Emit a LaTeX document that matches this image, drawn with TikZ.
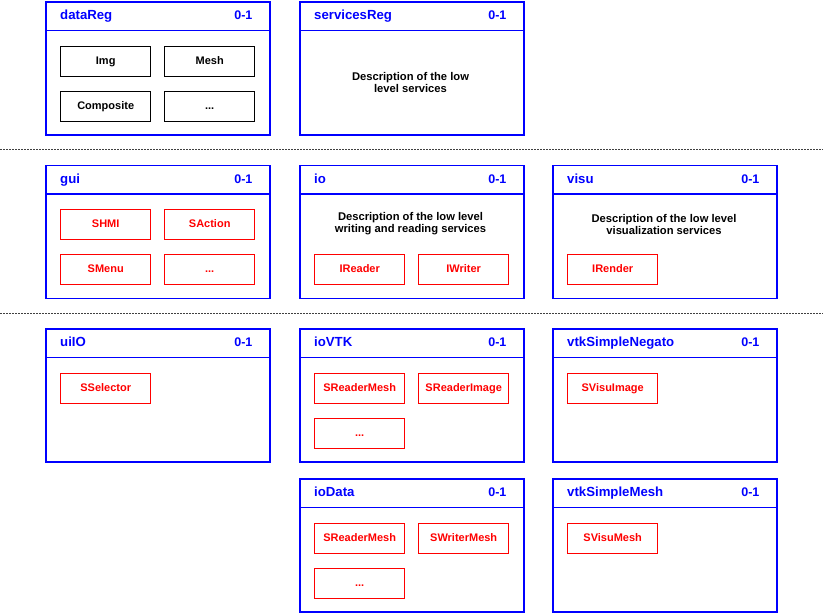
\documentclass[tikz,border=0pt]{standalone}
\usepackage{fontspec}
\setmainfont{Liberation Sans}
\begin{document}
\begin{tikzpicture}[x=1pt,y=-1pt,
  modframe/.style={draw=blue, line width=1.6pt, minimum width=224pt, minimum height=133pt, anchor=north west, inner sep=0pt},
  modline/.style={draw=blue, line width=1.6pt},
  modtitle/.style={text=blue, font=\bfseries\fontsize{13.2}{15}\selectfont, anchor=west, inner sep=0pt, text height=9.5pt, text depth=2.5pt},
  modcount/.style={modtitle, font=\bfseries\fontsize{12.5}{15}\selectfont, anchor=east},
  item/.style={draw=red, line width=1.4pt, minimum width=90pt, minimum height=30pt, anchor=north west, text=red, font=\bfseries\fontsize{11}{12}\selectfont, inner sep=0pt, text height=8pt, text depth=2pt},
  ditem/.style={item, draw=black, text=black},
  desc/.style={font=\bfseries\fontsize{11.2}{12}\selectfont, align=center, text=black, inner sep=0pt},
  sep/.style={draw=black!75, line width=1pt, dash pattern=on 1.5pt off 1.5pt}
]
\useasboundingbox (0,0) rectangle (823,613);
\newcommand\modbox[4]{%
  \node[modframe] (#1) at (#2,#3) {};
  \draw[modline] ([yshift=-29.5pt]#1.north west) -- ([yshift=-29.5pt]#1.north east);
  \node[modtitle] (#1-t) at ([xshift=15pt,yshift=-15pt]#1.north west) {#4};
  \node[modcount] (#1-c) at ([xshift=-18pt,yshift=-15pt]#1.north east) {0-1};
}
% separators
\coordinate (s1a) at (0,149.5); \coordinate (s1b) at (823,149.5);
\coordinate (s2a) at (0,313.5); \coordinate (s2b) at (823,313.5);
\draw[sep] (s1a) -- (s1b);
\draw[sep] (s2a) -- (s2b);
% row 1
\modbox{dataReg}{45}{1}{dataReg}
\node[ditem] (img) at (60,45.5) {Img};
\node[ditem] (mesh) at (164,45.5) {Mesh};
\node[ditem] (comp) at (60,90.5) {Composite};
\node[ditem] (dots1) at (164,90.5) {...};
\modbox{servicesReg}{299}{1}{servicesReg}
\node[desc] (sdesc) at (410.5,82) {Description of the low\\level services};
% row 2
\modbox{gui}{45}{164.5}{gui}
\node[item] (shmi) at (60,209) {SHMI};
\node[item] (saction) at (164,209) {SAction};
\node[item] (smenu) at (60,254) {SMenu};
\node[item] (dots2) at (164,254) {...};
\modbox{io}{299}{164.5}{io}
\node[desc] (iodesc) at (410.5,224) {Description of the low level\\writing and reading services};
\node[item] (ireader) at (314,254) {IReader};
\node[item] (iwriter) at (418,254) {IWriter};
\modbox{visu}{552}{164.5}{visu}
\node[desc] (vdesc) at (664,224) {Description of the low level\\visualization services};
\node[item] (irender) at (567,254) {IRender};
% row 3
\modbox{uiIO}{45}{328}{uiIO}
\node[item] (ssel) at (60,373) {SSelector};
\modbox{ioVTK}{299}{328}{ioVTK}
\node[item] (srm1) at (314,373) {SReaderMesh};
\node[item] (sri) at (418,373) {SReaderImage};
\node[item] (dots3) at (314,418) {...};
\modbox{vtkNeg}{552}{328}{vtkSimpleNegato}
\node[item] (svi) at (567,373) {SVisuImage};
% row 4
\modbox{ioData}{299}{478}{ioData}
\node[item] (srm2) at (314,522.5) {SReaderMesh};
\node[item] (swm) at (418,522.5) {SWriterMesh};
\node[item] (dots4) at (314,567.5) {...};
\modbox{vtkMesh}{552}{478}{vtkSimpleMesh}
\node[item] (svm) at (567,522.5) {SVisuMesh};
\end{tikzpicture}
\end{document}
